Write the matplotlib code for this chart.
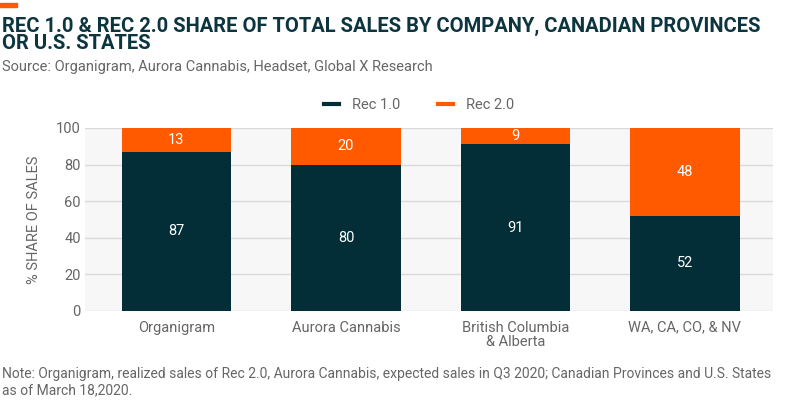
import matplotlib
matplotlib.use("Agg")
import matplotlib.pyplot as plt
from matplotlib.lines import Line2D
from matplotlib.patches import Rectangle
import numpy as np

categories = ["Organigram", "Aurora Cannabis", "British Columbia\n& Alberta", "WA, CA, CO, & NV"]
rec1 = [87, 80, 91, 52]
rec2 = [13, 20, 9, 48]
series_names = ["Rec 1.0", "Rec 2.0"]
yticks = [0, 20, 40, 60, 80, 100]

DARK = "#032e38"
ORANGE = "#ff5a00"
GRAY = "#666666"

plt.rcParams['font.family'] = ['Roboto', 'DejaVu Sans']

fig = plt.figure(figsize=(8, 4.03), dpi=100)
ax = fig.add_axes([85/800, 1-311/403, (773-85)/800, (311-128)/403])
ax.set_facecolor("#f7f7f7")

x = np.arange(len(categories))
w = 0.646
ax.bar(x, rec1, width=w, color=DARK, zorder=3)
ax.bar(x, rec2, width=w, bottom=rec1, color=ORANGE, zorder=3)
for i in range(len(categories)):
    ax.text(x[i], rec1[i]/2, str(rec1[i]), ha='center', va='center', color='white', fontsize=10.5, zorder=4)
    ax.text(x[i], rec1[i] + rec2[i]/2, str(rec2[i]), ha='center', va='center', color='white', fontsize=10.5, zorder=4)

ax.set_xlim(-0.54, 3.52)
ax.set_ylim(0, 100)
ax.set_yticks(yticks)
ax.grid(axis='y', color='#d9d9d9', linewidth=1, zorder=1)
ax.set_axisbelow(True)
for s in ax.spines.values():
    s.set_visible(False)
ax.tick_params(axis='both', length=0, colors=GRAY, labelsize=10.5)
ax.tick_params(axis='y', pad=3)
ax.tick_params(axis='x', pad=7)
ax.set_xticks(x)
ax.set_xticklabels(categories, linespacing=1.0)
ax.set_ylabel("% SHARE OF SALES", color=GRAY, fontsize=10.5, labelpad=11)

handles = [Line2D([0], [0], color=DARK, lw=3), Line2D([0], [0], color=ORANGE, lw=3)]
fig.legend(handles, series_names, loc='center', bbox_to_anchor=(419/800, 1-105/403), ncol=2,
           frameon=False, fontsize=10.5, labelcolor=GRAY, handlelength=1.0, columnspacing=2.6, handletextpad=0.9)

fig.patches.append(Rectangle((0, 1-7/403), 17/800, 4/403, transform=fig.transFigure, color=ORANGE, figure=fig))
fig.text(2/800, 1-35/403, "REC 1.0 & REC 2.0 SHARE OF TOTAL SALES BY COMPANY, CANADIAN PROVINCES\nOR U.S. STATES",
         fontsize=14.5, fontweight='bold', color="#0d3540", va='center', ha='left', linespacing=0.92)
fig.text(2/800, 1-67/403, "Source: Organigram, Aurora Cannabis, Headset, Global X Research",
         fontsize=10.5, color=GRAY, va='center', ha='left')
fig.text(2/800, 1-382/403, "Note: Organigram, realized sales of Rec 2.0, Aurora Cannabis, expected sales in Q3 2020; Canadian Provinces and U.S. States\nas of March 18,2020.",
         fontsize=10, color=GRAY, va='center', ha='left', linespacing=1.2)

fig.savefig("out.png", dpi=100)
